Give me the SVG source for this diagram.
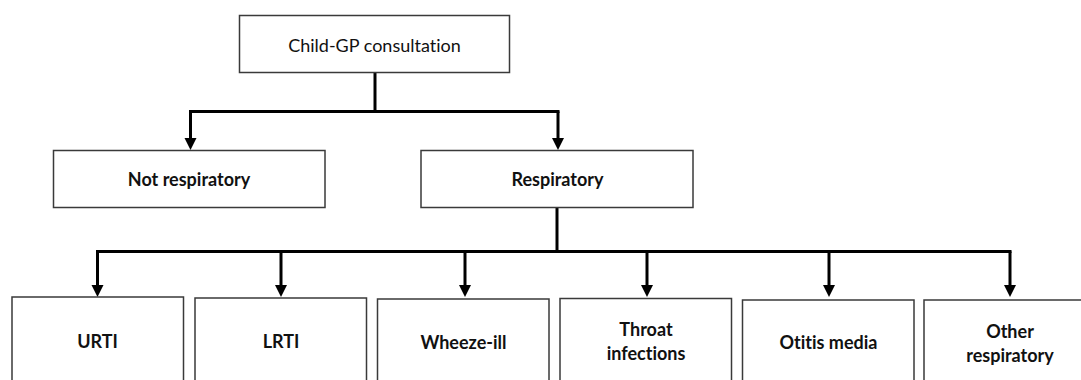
<svg xmlns="http://www.w3.org/2000/svg" width="1081" height="380" viewBox="0 0 1081 380">
  <style>
    .box { fill: #ffffff; stroke: #3a3a3a; stroke-width: 1.5; }
    .lbl { font-family: Lato, "Open Sans", "Liberation Sans", sans-serif; font-size: 18px; fill: #111111; text-anchor: middle; font-variant-ligatures: none; font-feature-settings: "liga" 0; }
    .b { font-weight: bold; }
    .conn { fill: none; stroke: #000000; stroke-width: 3; }
  </style>

  <g id="connectors">
    <path class="conn" d="M375 72 V111.5"/>
    <path class="conn" d="M189 111.5 H559.5"/>
    <path class="conn" d="M190.5 111.5 V138" />
    <path class="conn" d="M558 111.5 V138" />
    <path class="conn" d="M557 207 V251.5"/>
    <path class="conn" d="M96 251.5 H1011.5"/>
    <path class="conn" d="M97.5 251.5 V285"/>
    <path class="conn" d="M281 251.5 V285"/>
    <path class="conn" d="M465 251.5 V285"/>
    <path class="conn" d="M647 251.5 V285"/>
    <path class="conn" d="M829 251.5 V285"/>
    <path class="conn" d="M1010 251.5 V285"/>
    <g fill="#000000">
      <path d="M184.5 138 H196.5 L190.5 150 Z"/>
      <path d="M552 138 H564 L558 150 Z"/>
      <path d="M91.5 285 H103.5 L97.5 297 Z"/>
      <path d="M275 285 H287 L281 297 Z"/>
      <path d="M459 285 H471 L465 297 Z"/>
      <path d="M641 285 H653 L647 297 Z"/>
      <path d="M823 285 H835 L829 297 Z"/>
      <path d="M1004 285 H1016 L1010 297 Z"/>
    </g>
  </g>

  <g id="node-consultation">
    <rect class="box" x="239.5" y="15.5" width="270" height="57"/>
    <text class="lbl" x="374.5" y="51.5">Child-GP consultation</text>
  </g>
  <g id="node-not-respiratory">
    <rect class="box" x="53.5" y="150.5" width="271.5" height="57"/>
    <text class="lbl b" x="189" y="186">Not respiratory</text>
  </g>
  <g id="node-respiratory">
    <rect class="box" x="421" y="150.5" width="272" height="57"/>
    <text class="lbl b" x="557.5" y="186">Respiratory</text>
  </g>
  <g id="node-urti">
    <rect class="box" x="12" y="297" width="171.5" height="100"/>
    <text class="lbl b" x="97.5" y="347.5">URTI</text>
  </g>
  <g id="node-lrti">
    <rect class="box" x="195" y="298" width="171.5" height="100"/>
    <text class="lbl b" x="281" y="348">LRTI</text>
  </g>
  <g id="node-wheeze">
    <rect class="box" x="377.5" y="299" width="171.5" height="100"/>
    <text class="lbl b" x="463.5" y="348.5">Wheeze-ill</text>
  </g>
  <g id="node-throat">
    <rect class="box" x="560" y="298.5" width="171.5" height="100"/>
    <text class="lbl b" x="646" y="336">Throat</text>
    <text class="lbl b" x="646" y="359.5">infections</text>
  </g>
  <g id="node-otitis">
    <rect class="box" x="742.5" y="300" width="171.5" height="100"/>
    <text class="lbl b" x="828.5" y="349">Otitis media</text>
  </g>
  <g id="node-other">
    <rect class="box" x="924" y="300" width="171.5" height="100"/>
    <text class="lbl b" x="1010" y="337.5">Other</text>
    <text class="lbl b" x="1010" y="361.5">respiratory</text>
  </g>
</svg>
